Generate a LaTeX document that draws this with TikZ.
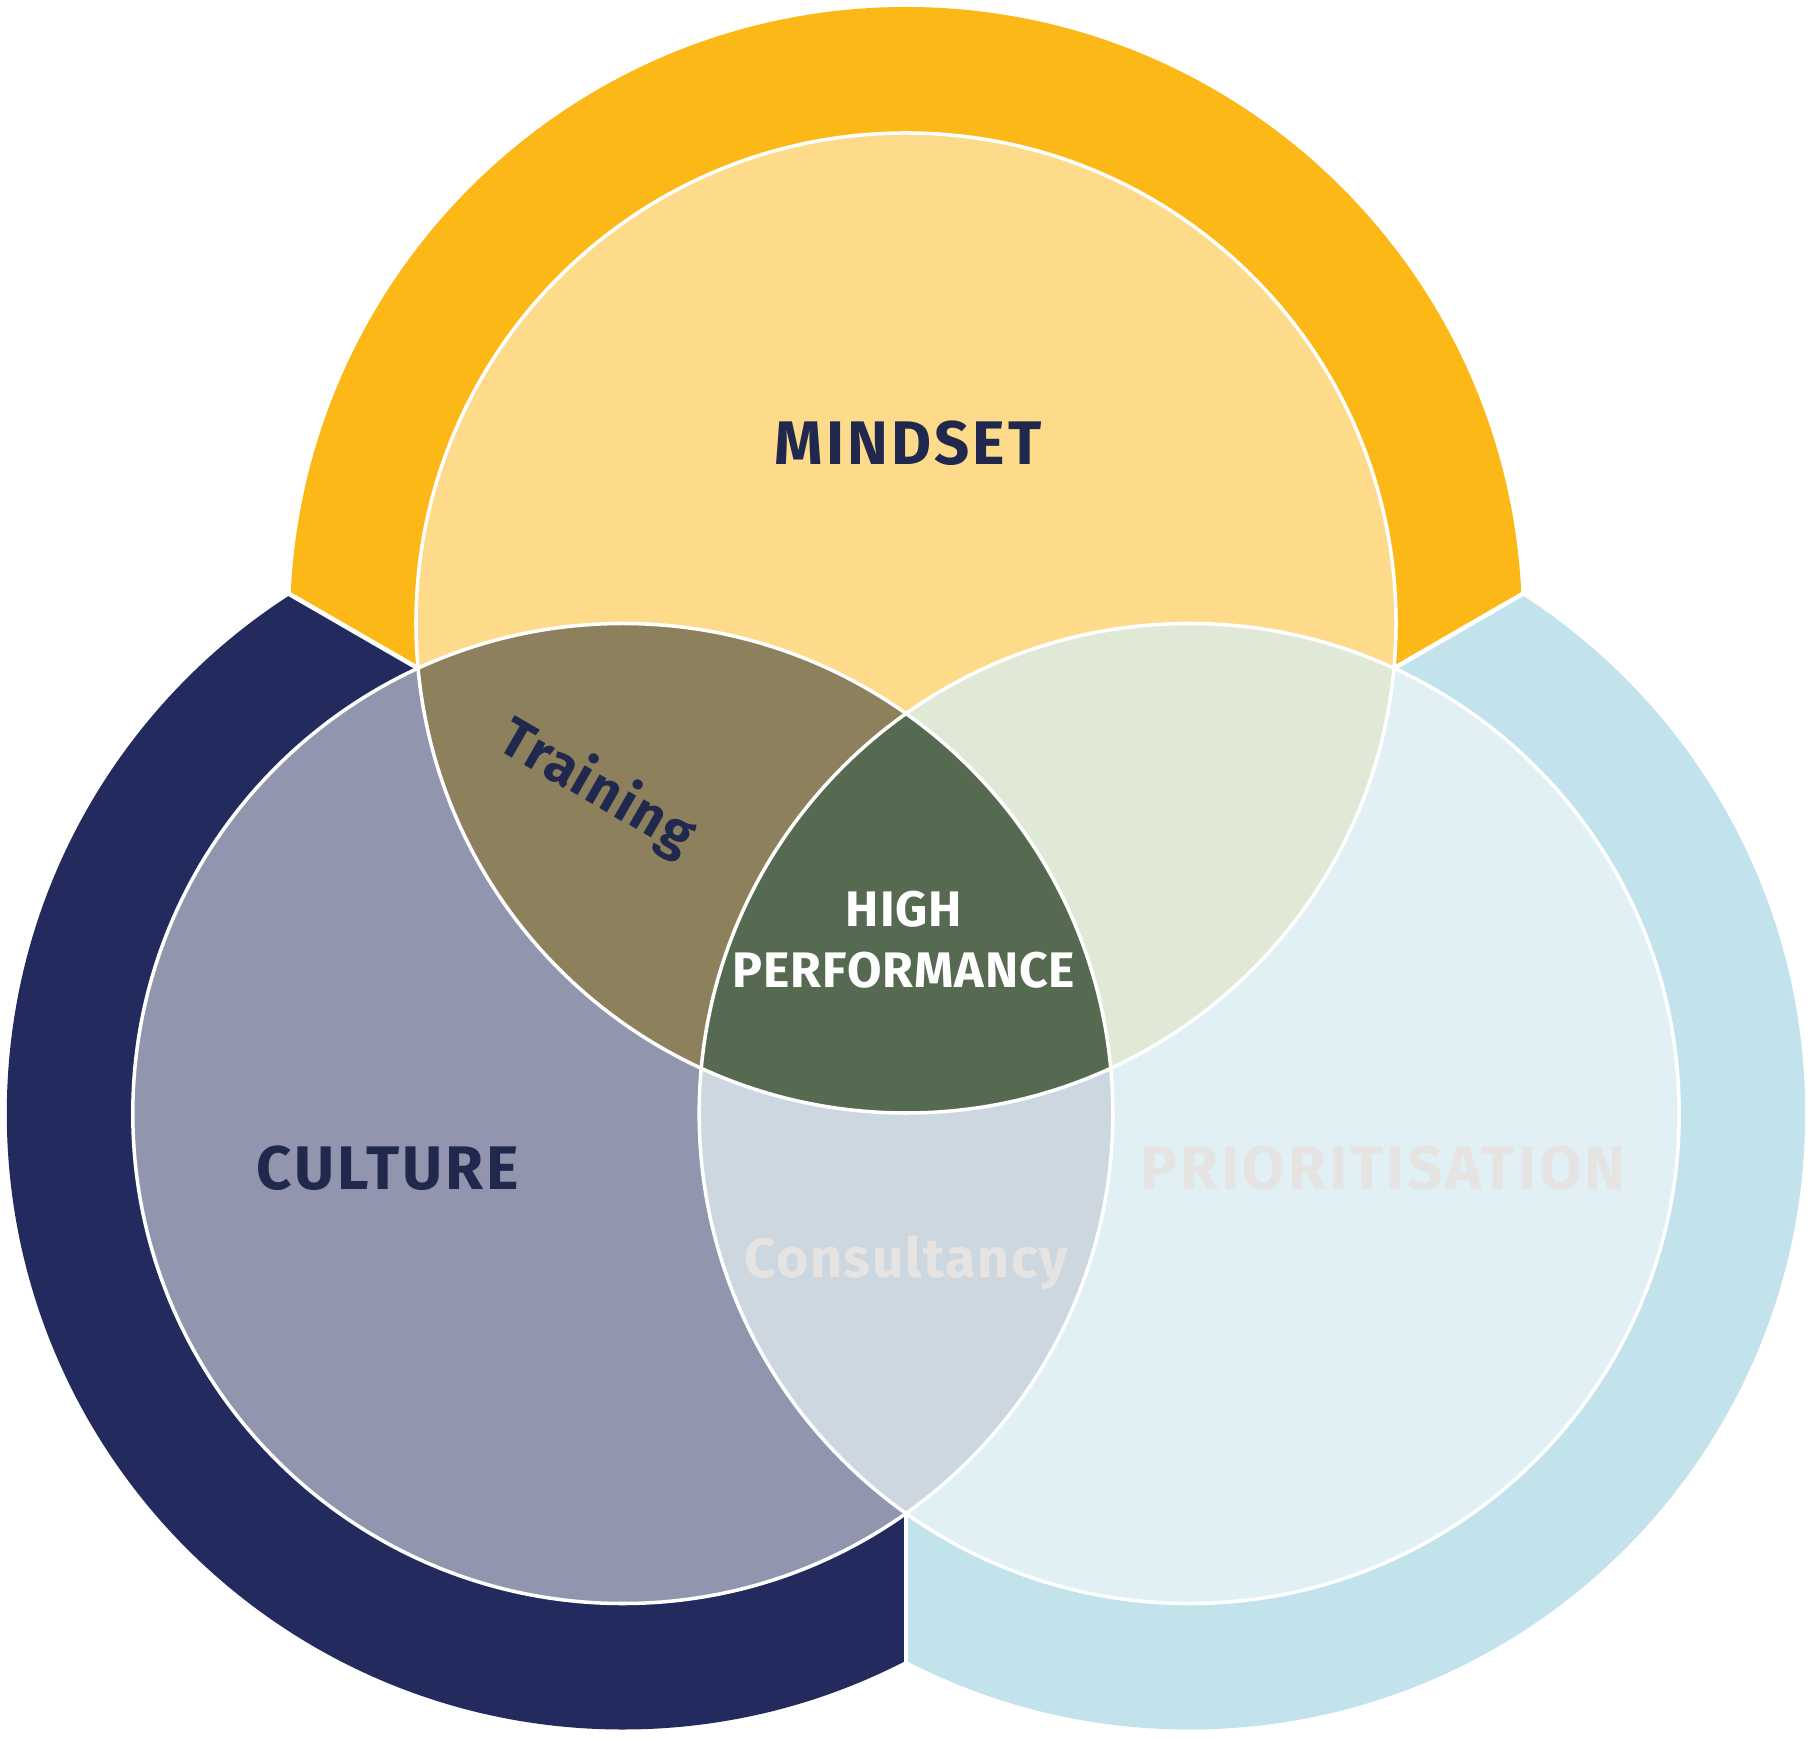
\documentclass[tikz,border=0pt]{standalone}
\usepackage{fontspec}
\setmainfont{Fira Sans}
\newfontfamily\widecaps[LetterSpace=5]{Fira Sans}
\newfontfamily\widetext[LetterSpace=3]{Fira Sans}
\newfontfamily\slimtext[LetterSpace=2]{Fira Sans}
\usepackage{xcolor}
\definecolor{ringM}{RGB}{251, 184, 22}
\definecolor{ringC}{RGB}{35, 43, 94}
\definecolor{ringP}{RGB}{194, 226, 236}
\definecolor{zoneM}{RGB}{253, 219, 139}
\definecolor{zoneC}{RGB}{145, 150, 174}
\definecolor{zoneP}{RGB}{224, 240, 245}
\definecolor{zoneMC}{RGB}{141, 128, 92}
\definecolor{zoneMP}{RGB}{224, 233, 214}
\definecolor{zoneCP}{RGB}{205, 215, 224}
\definecolor{zoneAll}{RGB}{86, 106, 82}
\definecolor{ink}{RGB}{33, 40, 78}
\definecolor{pale}{RGB}{230, 228, 226}

\begin{document}
\begin{tikzpicture}[x=0.01cm, y=0.01cm,
    bigtag/.style={font=\widecaps\fontsize{17.5}{21}\selectfont\bfseries, anchor=base, inner sep=0pt},
    midtag/.style={font=\widetext\fontsize{15.7}{19}\selectfont\bfseries, inner sep=0pt}]
        \fill[white] (-906,-787) rectangle (904,950);
        \useasboundingbox (-906,-787) rectangle (904,950);

        \coordinate (mindset) at (90:327);
        \coordinate (culture) at (210:327);
        \coordinate (prior) at (330:327);

        % outer rings
        \foreach \c/\a/\m/\b/\col in {mindset/30/90/150/ringM, culture/150/210/270/ringC, prior/270/330/390/ringP} {
            \begin{scope}
                \clip (0,0) -- (\a:2000) -- (\m:2000) -- (\b:2000) -- cycle;
                \fill[\col] (\c) circle (616);
            \end{scope}
        }
        \foreach \ang in {30, 150, 270} {
            \draw[white, line width=1.3pt] (0,0) -- (\ang:760);
        }

        % inner circles
        \fill[zoneM] (mindset) circle (490);
        \fill[zoneC] (culture) circle (490);
        \fill[zoneP] (prior) circle (490);
        \begin{scope}
            \clip (mindset) circle (490);
            \fill[zoneMC] (culture) circle (490);
            \fill[zoneMP] (prior) circle (490);
        \end{scope}
        \begin{scope}
            \clip (culture) circle (490);
            \fill[zoneCP] (prior) circle (490);
        \end{scope}
        \begin{scope}
            \clip (mindset) circle (490);
            \clip (culture) circle (490);
            \fill[zoneAll] (prior) circle (490);
        \end{scope}
        \foreach \c in {mindset, culture, prior} {
            \draw[white, line width=1pt] (\c) circle (490);
        }

        \node[bigtag, text=ink] (mindsetlbl) at (2, 485) {MINDSET};
        \node[bigtag, text=ink] (culturelbl) at (-518, -239) {CULTURE};
        \node[bigtag, text=pale] (priorlbl) at (477, -239) {PRIORITISATION};
        \node[midtag, text=ink, rotate=-30] (traininglbl) at (-309, 162) {Training};
        \node[midtag, text=pale, anchor=base] (consultlbl) at (0, -327) {Consultancy};
        \node[font=\slimtext\fontsize{14.2}{17.6}\selectfont\bfseries, text=white, align=center, anchor=base, inner sep=0pt] (hplbl) at (-2, -38) {HIGH\\PERFORMANCE};
    \end{tikzpicture}
\end{document}
